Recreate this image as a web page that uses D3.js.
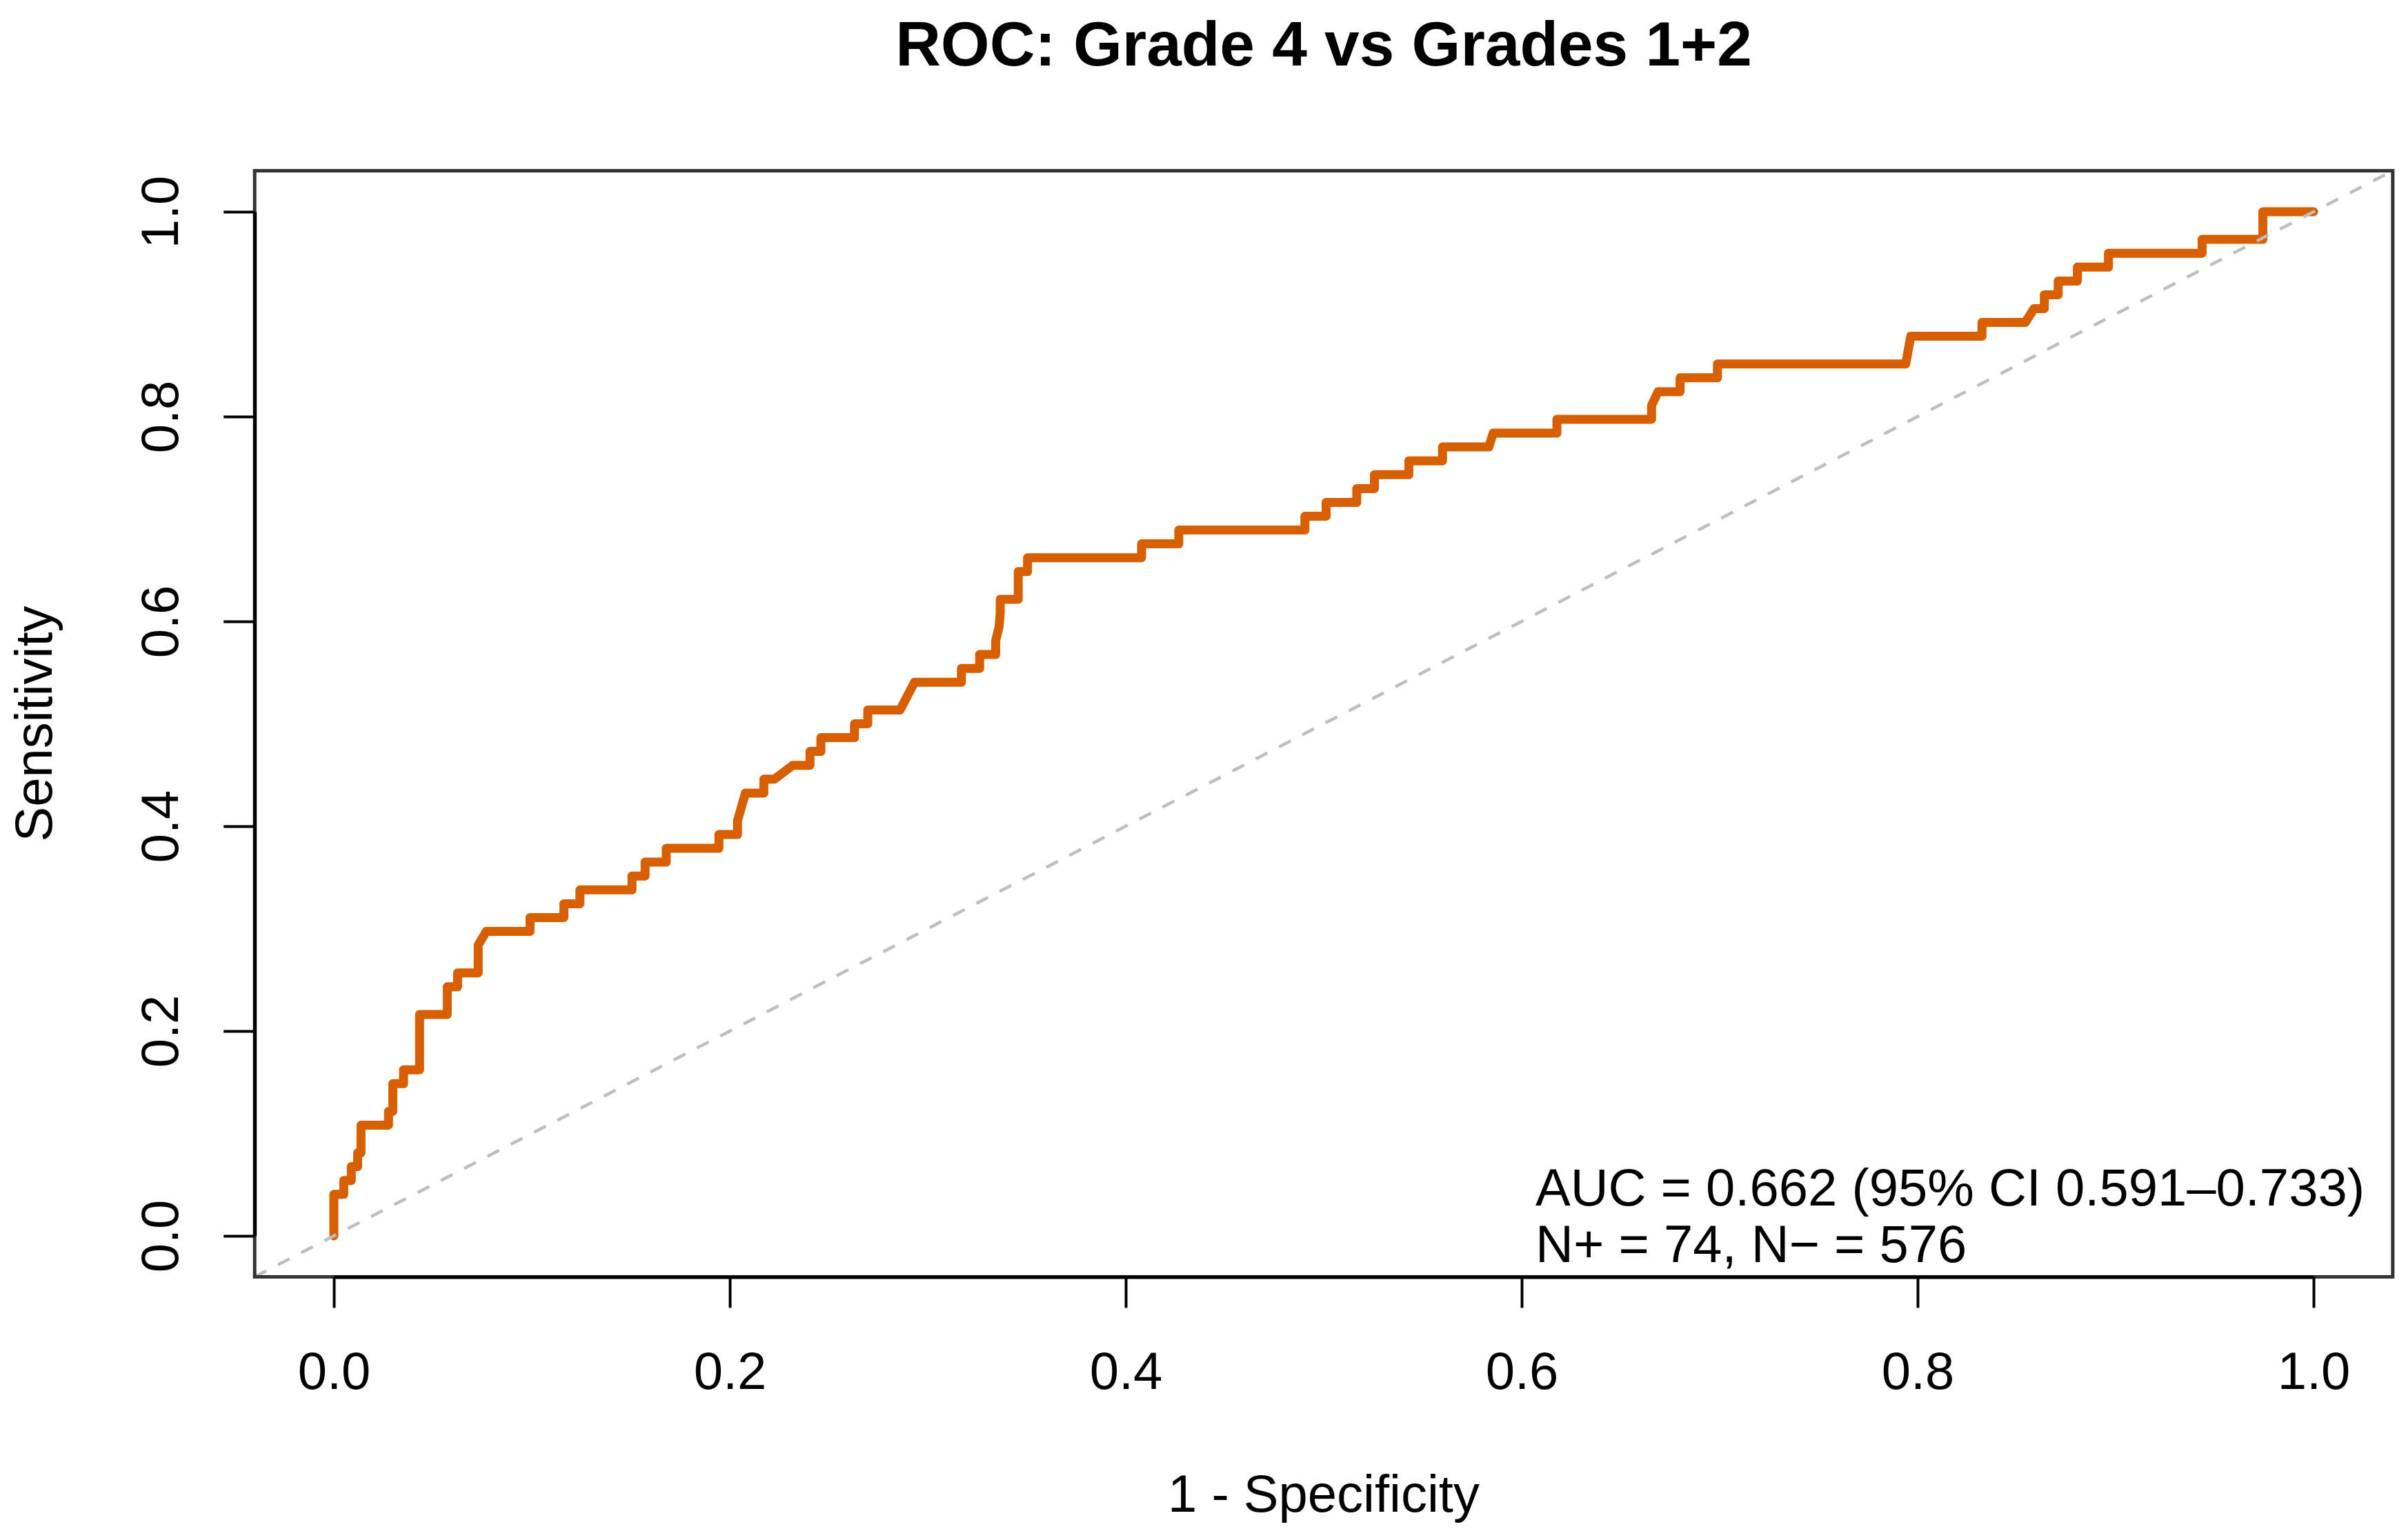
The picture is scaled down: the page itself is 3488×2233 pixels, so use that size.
<!DOCTYPE html>
<html>
<head>
<meta charset="utf-8">
<script src="https://cdn.jsdelivr.net/npm/d3@7"></script>
<style>
  body { margin: 0; background: #fff; }
  text { font-family: "Liberation Sans", Arial, Helvetica, sans-serif; }
</style>
</head>
<body>
<div id="chart"></div>
<script>
// ROC curve vertices: 1 - specificity and sensitivity
const fpr = [
  0, 0, 0.0050, 0.0050, 0.0088, 0.0088, 0.0120, 0.0120, 0.0137, 0.0137,
  0.0276, 0.0276, 0.0298, 0.0298, 0.0352, 0.0352, 0.0433, 0.0433, 0.0573, 0.0573,
  0.0625, 0.0625, 0.0729, 0.0729, 0.0770, 0.0991, 0.0991, 0.1162, 0.1162, 0.1243,
  0.1243, 0.1506, 0.1506, 0.1572, 0.1572, 0.1679, 0.1679, 0.1945, 0.1945, 0.2039,
  0.2039, 0.2079, 0.2172, 0.2172, 0.2225, 0.2318, 0.2405, 0.2405, 0.2460, 0.2460,
  0.2630, 0.2630, 0.2697, 0.2697, 0.2860, 0.2933, 0.3170, 0.3170, 0.3262, 0.3262,
  0.3343, 0.3343, 0.3360, 0.3366, 0.3366, 0.3457, 0.3457, 0.3504, 0.3504, 0.4080,
  0.4080, 0.4268, 0.4268, 0.4905, 0.4905, 0.5012, 0.5012, 0.5167, 0.5167, 0.5256,
  0.5256, 0.5430, 0.5430, 0.5600, 0.5600, 0.5834, 0.5856, 0.6178, 0.6178, 0.6656,
  0.6656, 0.6689, 0.6800, 0.6800, 0.6989, 0.6989, 0.7940, 0.7965, 0.8325, 0.8325,
  0.8544, 0.8588, 0.8640, 0.8640, 0.8710, 0.8710, 0.8807, 0.8807, 0.8964, 0.8964,
  0.9437, 0.9437, 0.9744, 0.9744, 1.0
];
const tpr = [
  0, 0.0405, 0.0405, 0.0541, 0.0541, 0.0676, 0.0676, 0.0811, 0.0811, 0.1081,
  0.1081, 0.1216, 0.1216, 0.1486, 0.1486, 0.1622, 0.1622, 0.2162, 0.2162, 0.2432,
  0.2432, 0.2568, 0.2568, 0.2838, 0.2973, 0.2973, 0.3108, 0.3108, 0.3243, 0.3243,
  0.3378, 0.3378, 0.3514, 0.3514, 0.3649, 0.3649, 0.3784, 0.3784, 0.3919, 0.3919,
  0.4054, 0.4324, 0.4324, 0.4459, 0.4459, 0.4595, 0.4595, 0.4730, 0.4730, 0.4865,
  0.4865, 0.5000, 0.5000, 0.5135, 0.5135, 0.5405, 0.5405, 0.5541, 0.5541, 0.5676,
  0.5676, 0.5811, 0.5946, 0.6081, 0.6216, 0.6216, 0.6486, 0.6486, 0.6622, 0.6622,
  0.6757, 0.6757, 0.6892, 0.6892, 0.7027, 0.7027, 0.7162, 0.7162, 0.7297, 0.7297,
  0.7432, 0.7432, 0.7568, 0.7568, 0.7703, 0.7703, 0.7838, 0.7838, 0.7973, 0.7973,
  0.8108, 0.8243, 0.8243, 0.8378, 0.8378, 0.8514, 0.8514, 0.8784, 0.8784, 0.8919,
  0.8919, 0.9054, 0.9054, 0.9189, 0.9189, 0.9324, 0.9324, 0.9459, 0.9459, 0.9595,
  0.9595, 0.9730, 0.9730, 1.0, 1.0
];

const xTicks = [0, 0.2, 0.4, 0.6, 0.8, 1];
const yTicks = [0, 0.2, 0.4, 0.6, 0.8, 1];
const tickLabels = ['0.0', '0.2', '0.4', '0.6', '0.8', '1.0'];
const legendLines = ['AUC = 0.662 (95% CI 0.591\u20130.733)', 'N+ = 74, N\u2212 = 576'];
const chartTitle = 'ROC: Grade 4 vs Grades 1+2';
const xLabel = '1 - Specificity';
const yLabel = 'Sensitivity';

const width = 3488;
const height = 2233;
const fontSize = 76;
const tickLen = 45;

// R style axes: data range plus 4% on each side
const x = d3.scaleLinear().domain([0, 1]).range([484, 3354]);
const y = d3.scaleLinear().domain([0, 1]).range([1792, 307]);
const pad = 0.04;
const boxL = x(-pad), boxR = x(1 + pad), boxT = y(1 + pad), boxB = y(-pad);

const svg = d3.select('#chart').append('svg')
  .attr('width', width)
  .attr('height', height)
  .style('background', '#fff');

svg.append('clipPath').attr('id', 'plotclip')
  .append('rect')
  .attr('x', boxL).attr('y', boxT)
  .attr('width', boxR - boxL).attr('height', boxB - boxT);

const points = fpr.map((d, i) => [d, tpr[i]]);

const line = d3.line()
  .x(d => x(d[0]))
  .y(d => y(d[1]));

svg.append('path')
  .datum(points)
  .attr('fill', 'none')
  .attr('stroke', '#D75F00')
  .attr('stroke-width', 13)
  .attr('stroke-linejoin', 'round')
  .attr('stroke-linecap', 'round')
  .attr('d', line);

// chance line
svg.append('path')
  .datum([[-pad, -pad], [1 + pad, 1 + pad]])
  .attr('clip-path', 'url(#plotclip)')
  .attr('fill', 'none')
  .attr('stroke', '#BEBEBE')
  .attr('stroke-width', 4.5)
  .attr('stroke-dasharray', '19,19')
  .attr('d', line);

svg.append('rect')
  .attr('x', boxL).attr('y', boxT)
  .attr('width', boxR - boxL).attr('height', boxB - boxT)
  .attr('fill', 'none')
  .attr('stroke', '#333')
  .attr('stroke-width', 5);

// x axis
const gx = svg.append('g')
  .attr('transform', 'translate(0,' + boxB + ')')
  .call(d3.axisBottom(x)
    .tickValues(xTicks)
    .tickSize(tickLen)
    .tickSizeOuter(0)
    .tickFormat((d, i) => tickLabels[i]));

gx.select('.domain').attr('stroke', '#000').attr('stroke-width', 5);
gx.selectAll('.tick line').attr('stroke', '#000').attr('stroke-width', 4);
gx.selectAll('.tick text')
  .attr('y', 2014 - boxB)
  .attr('dy', null)
  .attr('fill', '#000')
  .style('font-size', fontSize + 'px')
  .style('font-family', '"Liberation Sans", Arial, sans-serif');

// y axis, labels turned like R's default las = 0
const gy = svg.append('g')
  .attr('transform', 'translate(' + boxL + ',0)')
  .call(d3.axisLeft(y)
    .tickValues(yTicks)
    .tickSize(tickLen)
    .tickSizeOuter(0)
    .tickFormat((d, i) => tickLabels[i]));

gy.select('.domain').attr('stroke', '#000').attr('stroke-width', 5);
gy.selectAll('.tick line').attr('stroke', '#000').attr('stroke-width', 4);
gy.selectAll('.tick text')
  .attr('x', 0)
  .attr('y', 258 - boxL)
  .attr('dy', null)
  .attr('transform', 'rotate(-90)')
  .attr('text-anchor', 'middle')
  .attr('fill', '#000')
  .style('font-size', fontSize + 'px')
  .style('font-family', '"Liberation Sans", Arial, sans-serif');

// titles
svg.append('text')
  .attr('x', (boxL + boxR) / 2)
  .attr('y', 95)
  .attr('text-anchor', 'middle')
  .style('font-size', '91px')
  .style('font-weight', 'bold')
  .text(chartTitle);

svg.append('text')
  .attr('x', (boxL + boxR) / 2)
  .attr('y', 2192)
  .attr('text-anchor', 'middle')
  .style('font-size', fontSize + 'px')
  .text(xLabel);

svg.append('text')
  .attr('transform', 'translate(75,' + (boxT + boxB) / 2 + ') rotate(-90)')
  .attr('text-anchor', 'middle')
  .style('font-size', fontSize + 'px')
  .text(yLabel);

// legend text, bottom right, no box
svg.selectAll('.legend')
  .data(legendLines)
  .enter().append('text')
  .attr('class', 'legend')
  .attr('x', 2226)
  .attr('y', (d, i) => 1748 + i * 82)
  .style('font-size', fontSize + 'px')
  .text(d => d);
</script>
</body>
</html>
